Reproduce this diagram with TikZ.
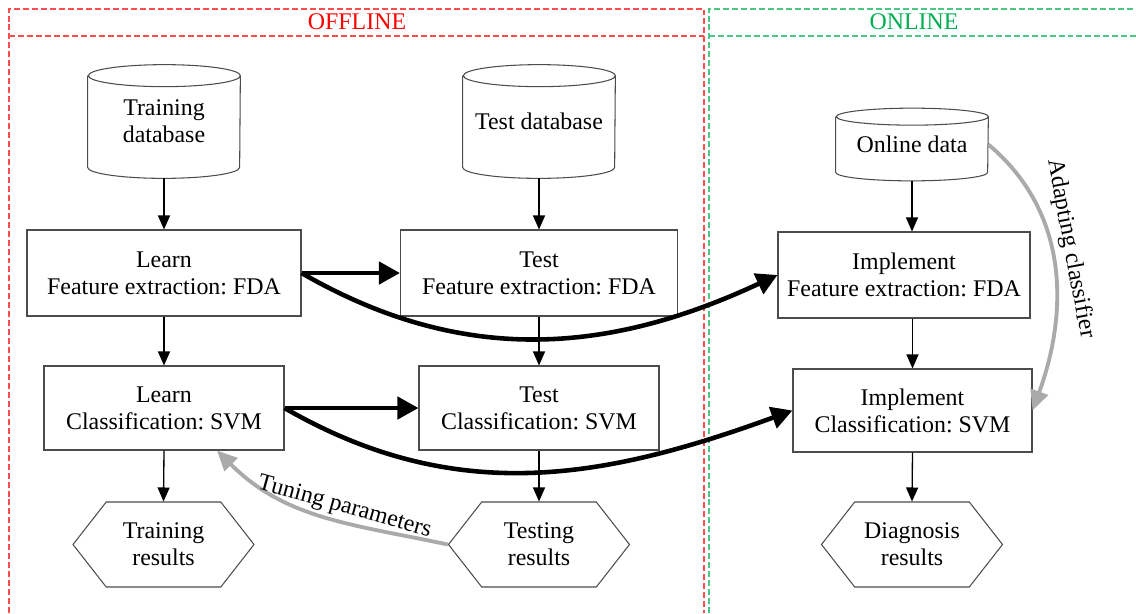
\documentclass[tikz,border=0pt]{standalone}
\usepackage{fontspec}
\setmainfont{Liberation Serif}
\usetikzlibrary{arrows.meta,shapes.symbols}

\definecolor{offred}{RGB}{255,0,0}
\definecolor{ongreen}{RGB}{0,176,80}
\definecolor{fbgray}{RGB}{170,170,170}
\frenchspacing

\begin{document}
\begin{tikzpicture}[
    >=Latex,
    box/.style={rectangle,draw=black!70,line width=0.6pt,align=center,inner sep=0pt},
    dbase/.style={rectangle,align=center,inner sep=0pt,minimum width=3.04cm},
    result/.style={signal,signal to=east and west,signal pointer angle=104,draw=black!70,
      line width=0.6pt,align=center,minimum width=3.62cm,minimum height=1.7cm,inner sep=0pt},
    flow/.style={-{Triangle[length=2.8mm,width=2.4mm]},line width=0.75pt},
    pass/.style={-{Triangle[length=4.2mm,width=4.4mm]},line width=2.6pt},
    feedback/.style={-{Triangle[length=4mm,width=3.6mm]},line width=2.2pt,draw=fbgray},
    frame/.style={dash pattern=on 3.4pt off 1.7pt,line width=0.6pt},
    every node/.style={font=\fontsize{13.6}{15.4}\selectfont}]
  \useasboundingbox (0,0) rectangle (22.72,-12.26);
  % ---- frames ----
  \draw[frame,offred!70] (0.18,-12.26) -- (0.18,-0.18) -- (14.08,-0.18) -- (14.08,-12.26);
  \draw[frame,offred!70] (0.18,-0.72) -- (14.08,-0.72);
  \draw[frame,ongreen!70] (14.18,-12.26) -- (14.18,-0.18) -- (22.72,-0.18);
  \draw[frame,ongreen!70] (14.18,-0.72) -- (22.72,-0.72);
  \node[text=offred] (offl) at (7.14,-0.44) {OFFLINE};
  \node[text=ongreen] (onl) at (18.28,-0.44) {ONLINE};
  % ---- databases ----
  \node[dbase,minimum height=1.82cm] (trdb) at (3.28,-2.43) {Training\\database};
  \node[dbase,minimum height=1.82cm] (tedb) at (10.78,-2.43) {Test database};
  \node[dbase,minimum height=1.10cm] (ondb) at (18.24,-2.89) {Online data};
  \foreach \db/\ry in {trdb/0.22,tedb/0.22,ondb/0.17}
    \draw[black!70,line width=0.6pt]
      (\db.north east) arc[start angle=0,end angle=360,x radius=1.52cm,y radius=\ry cm]
      (\db.north west) -- (\db.south west)
      arc[start angle=180,end angle=360,x radius=1.52cm,y radius=\ry cm] -- (\db.north east);
  % ---- processing steps ----
  \node[box,minimum width=5.48cm,minimum height=1.72cm] (lfda) at (3.28,-5.46) {Learn\\Feature extraction: FDA};
  \node[box,minimum width=5.54cm,minimum height=1.72cm] (tfda) at (10.78,-5.46) {Test\\Feature extraction: FDA};
  \node[box,minimum width=5.04cm,minimum height=1.72cm] (ifda) at (18.08,-5.50) {Implement\\Feature extraction: FDA};
  \node[box,minimum width=4.80cm,minimum height=1.68cm] (lsvm) at (3.28,-8.16) {Learn\\Classification: SVM};
  \node[box,minimum width=4.80cm,minimum height=1.68cm] (tsvm) at (10.78,-8.16) {Test\\Classification: SVM};
  \node[box,minimum width=4.78cm,minimum height=1.66cm] (isvm) at (18.25,-8.21) {Implement\\Classification: SVM};
  % ---- results ----
  \node[result] (trres) at (3.27,-10.89) {Training\\results};
  \node[result] (teres) at (10.78,-10.89) {Testing\\results};
  \node[result] (dires) at (18.24,-10.89) {Diagnosis\\results};
  % ---- vertical flow ----
  \draw[flow] ([yshift=-2.2mm]trdb.south) -- (lfda.north);
  \draw[flow] (lfda.south) -- (lsvm.north);
  \draw[flow] (lsvm.south) -- (trres.north);
  \draw[flow] ([yshift=-2.2mm]tedb.south) -- (tfda.north);
  \draw[flow] (tfda.south) -- (tsvm.north);
  \draw[flow] (tsvm.south) -- (teres.north);
  \draw[flow] ([yshift=-1.7mm]ondb.south) -- (ondb.south |- ifda.north);
  \draw[flow] (isvm.north |- ifda.south) -- (isvm.north);
  \draw[flow] (isvm.south) -- (dires.north);
  % ---- passing learned models ----
  \draw[pass] (lfda.east) -- (tfda.west);
  \draw[pass] (lfda.east) to[out=-30,in=205] (ifda.west);
  \draw[pass] (lsvm.east) -- (tsvm.west);
  \draw[pass] (lsvm.east) to[out=-30,in=200] (isvm.west);
  % ---- feedback ----
  \draw[feedback] (teres.west) to[out=168,in=-45]
    node[pos=0.42,above,sloped,inner sep=1pt] (tune) {Tuning parameters} ([xshift=1.06cm]lsvm.south);
  \draw[feedback] (ondb.east) to[out=-40,in=70]
    node[pos=0.45,above,sloped] (adapt) {Adapting classifier} (isvm.east);
\end{tikzpicture}
\end{document}
